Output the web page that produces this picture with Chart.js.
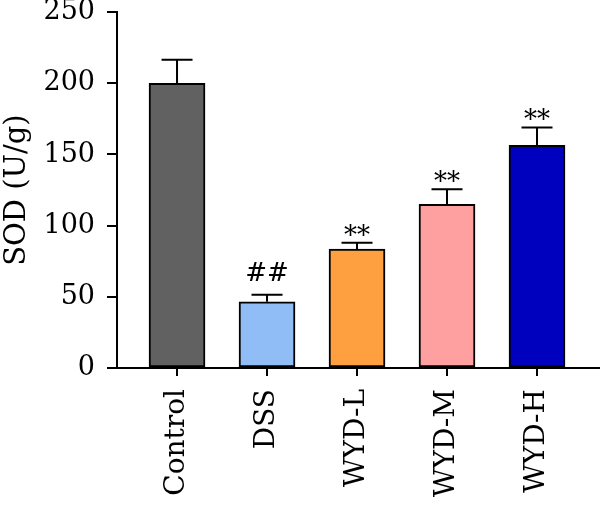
<!doctype html>
<html lang="en">
<head>
<meta charset="UTF-8" />
<title>SOD (U/g)</title>
<script src="https://cdn.jsdelivr.net/npm/chart.js"></script>
<style>
  html, body { margin: 0; padding: 0; background: #fff; overflow: hidden; }
  /* chart.js keeps ~24px above the axis; pull the canvas up to match the figure */
  #sodChart { display: block; margin-top: -12px; }
</style>
</head>
<body>
<canvas id="sodChart" width="600" height="517"></canvas>
<script>
// values
const groups = ["Control", "DSS", "WYD-L", "WYD-M", "WYD-H"];
const sodMean = [200, 46.5, 83.5, 115, 156.5];
const sodErr = [16.5, 5, 4.5, 10.5, 12.5];
const marks = ["", "##", "**", "**", "**"];
const barColors = ["#616161", "#90bdf6", "#ffa040", "#ffa0a0", "#0000bf"];
const yTicks = [0, 50, 100, 150, 200, 250];

const FONT = "DejaVu Serif";

// error bars + significance marks
const errorBarPlugin = {
    id: "errorBars",
    afterDatasetsDraw(chart) {
        const { ctx, scales: { x, y } } = chart;
        ctx.save();
        ctx.strokeStyle = "#000";
        ctx.lineWidth = 2;
        ctx.fillStyle = "#000";
        ctx.textAlign = "center";
        ctx.textBaseline = "alphabetic";
        ctx.font = "26px '" + FONT + "'";
        sodMean.forEach((m, i) => {
            const px = x.getPixelForValue(i);
            const base = y.getPixelForValue(m);
            const top = y.getPixelForValue(m + sodErr[i]);
            ctx.beginPath();
            ctx.moveTo(px, base);
            ctx.lineTo(px, top);
            ctx.moveTo(px - 15.5, top);
            ctx.lineTo(px + 15.5, top);
            ctx.stroke();
            if (marks[i] === "##") {
                ctx.fillText(marks[i], px, top - 14);
            } else if (marks[i]) {
                ctx.fillText(marks[i], px, top + 1);
            }
        });
        ctx.restore();
    }
};

new Chart(document.getElementById("sodChart"), {
    type: "bar",
    data: {
        datasets: [{
            data: groups.map((g, i) => ({ x: i, y: sodMean[i] })),
            backgroundColor: barColors,
            borderColor: "#000",
            borderWidth: 2,
            borderSkipped: false,
            barThickness: 56,
        }],
    },
    options: {
        responsive: false,
        animation: false,
        layout: { padding: 0 },
        plugins: { legend: { display: false }, tooltip: { enabled: false } },
        scales: {
            x: {
                type: "linear",
                offset: false,
                min: -0.667,
                max: 4.7,
                afterBuildTicks: (scale) => {
                    scale.ticks = groups.map((g, i) => ({ value: i }));
                },
                afterFit: (scale) => { scale.height = 137; },
                grid: { display: true, offset: false, drawOnChartArea: false, drawTicks: true, tickLength: 8, color: "#000", lineWidth: 2 },
                border: { display: true, color: "#000", width: 2 },
                ticks: {
                    autoSkip: false,
                    minRotation: 90,
                    maxRotation: 90,
                    padding: 13,
                    color: "#000",
                    font: { family: FONT, size: 28 },
                    callback: (v) => groups[v] ?? "",
                },
            },
            y: {
                min: 0,
                max: 250,
                afterBuildTicks: (scale) => {
                    scale.ticks = yTicks.map((v) => ({ value: v }));
                },
                afterFit: (scale) => { scale.width = 117; },
                grid: { display: true, drawOnChartArea: false, drawTicks: true, tickLength: 10, color: "#000", lineWidth: 2 },
                border: { display: true, color: "#000", width: 2 },
                ticks: {
                    padding: 12,
                    color: "#000",
                    font: { family: FONT, size: 27, lineHeight: 0.9 },
                },
                title: {
                    display: true,
                    text: "SOD (U/g)",
                    color: "#000",
                    font: { family: FONT, size: 29 },
                    padding: { top: 0, bottom: 0 },
                },
            },
        },
    },
    plugins: [errorBarPlugin],
});
</script>
</body>
</html>
